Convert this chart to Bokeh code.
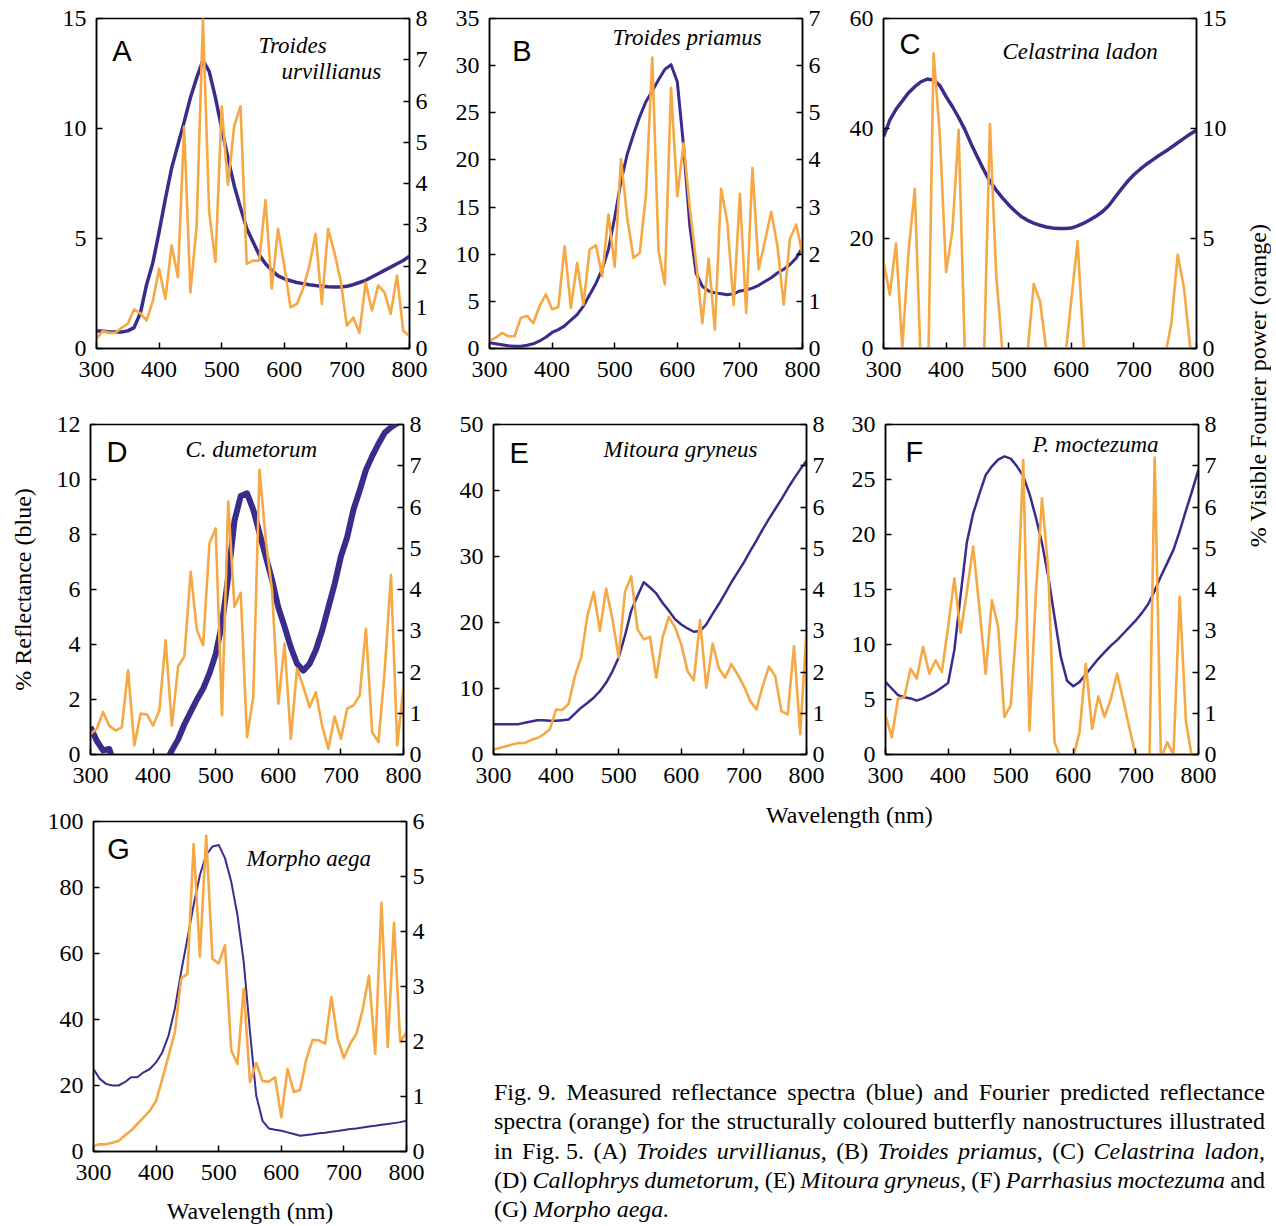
from bokeh.plotting import figure
from bokeh.models import Range1d, LinearAxis, FixedTicker, Label, Div
from bokeh.layouts import row, column
from bokeh.embed import file_html
from bokeh.resources import INLINE

# ---------------- data ----------------
WL = list(range(300, 801, 10))
X_TICKS = [300, 400, 500, 600, 700, 800]

BLUE_A = [0.8, 0.8, 0.75, 0.75, 0.75, 0.8, 0.95, 1.6, 2.9, 3.9, 5.3, 6.8, 8.2, 9.25, 10.3, 11.4, 12.3, 13.1,
          12.6, 11.4, 10.0, 8.65, 7.4, 6.4, 5.45, 4.85, 4.25, 3.85, 3.55, 3.3, 3.17, 3.08, 3.0, 2.95, 2.9, 2.86,
          2.83, 2.81, 2.8, 2.8, 2.83, 2.9, 3.0, 3.1, 3.25, 3.4, 3.55, 3.7, 3.85, 4.0, 4.2]
ORANGE_A = [0.23, 0.43, 0.38, 0.38, 0.5, 0.6, 0.95, 0.85, 0.68, 1.15, 1.93, 1.2, 2.5, 1.73, 5.38, 1.36, 2.98, 8.0,
            3.3, 2.1, 5.87, 3.96, 5.4, 5.87, 2.05, 2.13, 2.13, 3.6, 1.45, 2.9, 2.0, 1.0, 1.08, 1.45, 2.0, 2.78,
            1.08, 2.9, 2.33, 1.65, 0.55, 0.75, 0.38, 1.6, 0.92, 1.53, 1.36, 0.84, 1.77, 0.43, 0.3]

BLUE_B = [0.6, 0.5, 0.4, 0.3, 0.25, 0.25, 0.35, 0.5, 0.8, 1.2, 1.7, 2.0, 2.4, 3.0, 3.6, 4.5, 5.7, 6.9, 8.4, 10.5,
          13.9, 17.7, 20.6, 22.7, 24.6, 26.2, 27.3, 28.5, 29.6, 30.1, 28.3, 21.5, 13.0, 8.0, 6.6, 6.1, 5.9, 5.8,
          5.7, 5.8, 6.1, 6.2, 6.4, 6.7, 7.1, 7.5, 8.0, 8.4, 8.9, 9.6, 10.7]
ORANGE_B = [0.16, 0.23, 0.33, 0.26, 0.26, 0.65, 0.69, 0.54, 0.9, 1.15, 0.83, 0.88, 2.17, 0.86, 1.82, 0.93, 2.1,
            2.19, 1.53, 2.84, 1.73, 4.02, 2.77, 1.92, 2.03, 3.27, 6.17, 2.07, 1.36, 5.53, 3.23, 4.36, 2.98, 1.85,
            0.54, 1.91, 0.4, 3.39, 2.67, 0.92, 3.28, 0.76, 3.83, 1.68, 2.28, 2.9, 2.17, 0.93, 2.33, 2.63, 1.99]

BLUE_C = [38.5, 41.5, 43.5, 45.0, 46.5, 47.6, 48.5, 49.0, 48.8, 47.8, 45.8, 44.0, 42.0, 39.8, 37.2, 34.8, 32.5,
          30.4, 28.8, 27.4, 26.1, 25.0, 24.0, 23.3, 22.8, 22.4, 22.1, 21.9, 21.8, 21.8, 21.9, 22.3, 22.8, 23.4,
          24.1, 24.9, 26.0, 27.5, 29.0, 30.4, 31.6, 32.6, 33.5, 34.3, 35.1, 35.8, 36.6, 37.4, 38.2, 39.0, 39.7]
ORANGE_C = [3.96, 2.45, 4.77, 0.03, 4.4, 7.26, -1.2, -3.35, 13.42, 9.7, 3.48, 5.33, 9.94, -0.3, -3.0, -4.0, -1.1,
            10.2, 3.36, -0.15, -2.0, -3.0, -2.0, -0.2, 2.93, 2.15, -0.05, -2.0, -2.0, -0.5, 2.2, 4.87, 0.0, -2.0,
            -3.0, -3.0, -3.0, -3.0, -3.0, -3.0, -3.0, -3.0, -3.0, -2.0, -1.5, -0.3, 1.16, 4.27, 2.75, 0.03, -2.0]

BLUE_D = [1.0, 0.5, 0.15, 0.2, -0.5, -1.0, -1.5, -1.8, -1.8, -1.6, -1.2, -0.8, -0.3, 0.15, 0.55, 1.1, 1.55, 2.0,
          2.4, 2.95, 3.65, 4.75, 6.45, 8.5, 9.4, 9.5, 8.9, 8.05, 7.2, 6.35, 5.35, 4.65, 3.9, 3.3, 3.05, 3.3, 3.8,
          4.5, 5.35, 6.2, 7.2, 7.9, 8.9, 9.6, 10.35, 10.85, 11.3, 11.7, 11.9, 12.05, 12.2]
ORANGE_D = [0.5, 0.62, 1.03, 0.7, 0.58, 0.66, 2.04, 0.22, 0.99, 0.97, 0.7, 1.07, 2.77, 0.7, 2.14, 2.38, 4.43,
            3.01, 2.65, 5.12, 5.48, 0.95, 6.13, 3.58, 3.92, 0.42, 1.39, 6.9, 5.2, 3.98, 1.23, 2.69, 0.38, 2.08,
            1.64, 1.15, 1.51, 0.7, 0.14, 0.92, 0.38, 1.11, 1.19, 1.43, 3.05, 0.54, 0.3, 2.04, 4.35, 0.22, 1.64]

BLUE_E = [4.6, 4.6, 4.6, 4.6, 4.6, 4.8, 5.0, 5.2, 5.2, 5.1, 5.1, 5.2, 5.3, 6.2, 7.1, 7.8, 8.6, 9.6, 10.9, 12.6,
          14.7, 18.0, 21.8, 24.0, 26.1, 25.3, 24.4, 23.0, 21.8, 20.5, 19.7, 19.1, 18.6, 18.7, 19.7, 21.3, 22.8,
          24.4, 26.1, 27.6, 29.1, 30.8, 32.4, 34.1, 35.7, 37.2, 38.7, 40.3, 41.8, 43.2, 44.5]
ORANGE_E = [0.12, 0.16, 0.2, 0.24, 0.28, 0.28, 0.35, 0.4, 0.49, 0.61, 1.09, 1.08, 1.23, 1.9, 2.35, 3.36, 3.94,
            3.0, 4.02, 3.28, 2.35, 3.94, 4.32, 3.04, 2.79, 2.85, 1.86, 2.83, 3.34, 3.08, 2.67, 2.02, 1.8, 3.26,
            1.62, 2.69, 2.09, 1.86, 2.19, 1.94, 1.66, 1.3, 1.09, 1.66, 2.13, 1.9, 1.05, 0.97, 2.63, 0.49, 3.04]

BLUE_F = [6.6, 6.0, 5.4, 5.2, 5.1, 4.9, 5.1, 5.4, 5.7, 6.1, 6.5, 9.5, 14.5, 19.3, 21.9, 23.7, 25.4, 26.2, 26.8,
          27.1, 26.9, 26.2, 25.3, 23.7, 21.6, 19.2, 16.2, 12.5, 8.9, 6.7, 6.2, 6.6, 7.3, 8.0, 8.7, 9.3, 9.9, 10.4,
          11.0, 11.6, 12.2, 12.9, 13.7, 14.9, 16.2, 17.4, 18.6, 20.3, 22.2, 24.0, 25.9]
ORANGE_F = [0.95, 0.42, 1.35, 1.39, 2.08, 1.84, 2.61, 1.96, 2.28, 2.0, 3.09, 4.27, 2.95, 3.94, 5.04, 3.54, 1.96,
            3.74, 3.09, 0.91, 1.19, 3.3, 7.14, 0.58, 3.86, 6.21, 4.47, 0.3, -0.1, -0.6, -0.05, 0.54, 2.2, 0.62,
            1.41, 0.91, 1.35, 1.96, 1.31, 0.62, -0.05, -1.0, -1.6, 7.2, -0.1, 0.3, 0.0, 3.82, 0.79, -0.1, -0.5]

BLUE_G = [25.0, 22.0, 20.5, 20.0, 20.0, 21.0, 22.5, 22.5, 24.0, 25.0, 27.0, 30.1, 35.2, 43.3, 54.4, 64.5, 74.7,
          83.8, 89.9, 92.4, 92.9, 88.9, 81.8, 71.6, 57.4, 36.2, 16.9, 9.3, 7.0, 6.6, 6.3, 5.8, 5.3, 4.8, 5.0, 5.2,
          5.5, 5.7, 6.0, 6.2, 6.5, 6.8, 7.0, 7.3, 7.6, 7.8, 8.1, 8.3, 8.6, 8.9, 9.3]
ORANGE_G = [0.1, 0.13, 0.13, 0.16, 0.19, 0.29, 0.38, 0.5, 0.62, 0.74, 0.92, 1.32, 1.74, 2.17, 3.14, 3.23, 5.59,
            3.54, 5.74, 3.5, 3.42, 3.75, 1.84, 1.59, 2.96, 1.26, 1.61, 1.28, 1.27, 1.35, 0.62, 1.5, 1.08, 1.12,
            1.68, 2.03, 2.02, 1.96, 2.81, 2.05, 1.7, 1.96, 2.14, 2.58, 3.2, 1.78, 4.52, 1.9, 4.16, 1.99, 2.17]

LEFT_TICKS_A = [0, 5, 10, 15]
RIGHT_TICKS_A = [0, 1, 2, 3, 4, 5, 6, 7, 8]
LEFT_TICKS_B = [0, 5, 10, 15, 20, 25, 30, 35]
RIGHT_TICKS_B = [0, 1, 2, 3, 4, 5, 6, 7]
LEFT_TICKS_C = [0, 20, 40, 60]
RIGHT_TICKS_C = [0, 5, 10, 15]
LEFT_TICKS_D = [0, 2, 4, 6, 8, 10, 12]
RIGHT_TICKS_D = [0, 1, 2, 3, 4, 5, 6, 7, 8]
LEFT_TICKS_E = [0, 10, 20, 30, 40, 50]
RIGHT_TICKS_E = [0, 1, 2, 3, 4, 5, 6, 7, 8]
LEFT_TICKS_F = [0, 5, 10, 15, 20, 25, 30]
RIGHT_TICKS_F = [0, 1, 2, 3, 4, 5, 6, 7, 8]
LEFT_TICKS_G = [0, 20, 40, 60, 80, 100]
RIGHT_TICKS_G = [0, 1, 2, 3, 4, 5, 6]

# ---------------- style ----------------
BLUE = "#3b2c8c"
ORANGE = "#f5a843"
SERIF = "Liberation Serif"
SANS = "Liberation Sans"
FW, FH = 313, 330


def style_axis(ax, standoff):
    ax.axis_line_color = "black"
    ax.axis_line_width = 1.5
    ax.major_tick_in = 6
    ax.major_tick_out = 0
    ax.major_tick_line_width = 1.5
    ax.major_tick_line_color = "black"
    ax.minor_tick_line_color = None
    ax.major_label_text_font = SERIF
    ax.major_label_text_font_size = "24px"
    ax.major_label_text_color = "black"
    ax.major_label_standoff = standoff


def make_panel(letter, species, blue, orange, lticks, rticks, borders, letter_pos, blue_w,
               xlabel=None, ylabel=None):
    L, R, T, B = borders
    lmax = lticks[-1]
    rmax = rticks[-1]
    p = figure(frame_width=FW, frame_height=FH, x_range=Range1d(300, 800), y_range=Range1d(0, lmax),
               output_backend="svg", toolbar_location=None,
               min_border_left=L, min_border_right=R, min_border_top=T, min_border_bottom=B)
    p.extra_y_ranges = {"r": Range1d(0, rmax)}
    p.xgrid.visible = False
    p.ygrid.visible = False
    p.outline_line_color = "black"
    p.outline_line_width = 1.5
    p.outline_line_alpha = 1.0
    p.background_fill_color = "white"
    p.border_fill_color = "white"

    p.line(WL, blue, color=BLUE, line_width=blue_w, line_join="round")
    p.line(WL, orange, color=ORANGE, line_width=2.6, line_join="round", y_range_name="r")

    xax = p.xaxis[0]
    yax = p.yaxis[0]
    xax.ticker = FixedTicker(ticks=X_TICKS)
    yax.ticker = FixedTicker(ticks=lticks)
    style_axis(xax, 13)
    style_axis(yax, 10)
    rax = LinearAxis(y_range_name="r", ticker=FixedTicker(ticks=rticks))
    style_axis(rax, 6)
    p.add_layout(rax, "right")

    if xlabel:
        xax.axis_label = xlabel
        xax.axis_label_text_font = SERIF
        xax.axis_label_text_font_size = "24px"
        xax.axis_label_text_font_style = "normal"
        xax.axis_label_text_color = "black"
        xax.axis_label_standoff = 15
    if ylabel:
        yax.axis_label = ylabel
        yax.axis_label_text_font = SERIF
        yax.axis_label_text_font_size = "24px"
        yax.axis_label_text_font_style = "normal"
        yax.axis_label_text_color = "black"
        yax.axis_label_standoff = 18

    def pos(dx, dy):
        return 300 + dx * 500.0 / FW, lmax - dy * lmax / FH

    lx, ly = pos(letter_pos[0], letter_pos[1] - 11)
    p.add_layout(Label(x=lx, y=ly, text=letter, text_font=SANS, text_font_size="29px",
                       text_baseline="alphabetic", text_align="left", text_color="black"))
    for txt, dx, dy in species:
        sx, sy = pos(dx, dy - 8)
        p.add_layout(Label(x=sx, y=sy, text=txt, text_font=SERIF, text_font_size="23px",
                           text_font_style="italic", text_baseline="alphabetic", text_align="left",
                           text_color="black"))
    return p


pA = make_panel("A", [("Troides", 162, 35), ("urvillianus", 185, 61)], BLUE_A, ORANGE_A,
                LEFT_TICKS_A, RIGHT_TICKS_A, (96, 40, 18, 48), (15.7, 43), 3.5)
pB = make_panel("B", [("Troides priamus", 123, 27)], BLUE_B, ORANGE_B,
                LEFT_TICKS_B, RIGHT_TICKS_B, (40, 40, 18, 48), (22.7, 43), 3.0)
pC = make_panel("C", [("Celastrina ladon", 119, 41)], BLUE_C, ORANGE_C,
                LEFT_TICKS_C, RIGHT_TICKS_C, (41, 44, 18, 48), (16, 36), 3.5)
pD = make_panel("D", [("C.  dumetorum", 95, 33)], BLUE_D, ORANGE_D,
                LEFT_TICKS_D, RIGHT_TICKS_D, (90, 45, 28, 48), (16, 38), 6.0,
                ylabel="% Reflectance (blue)")
pE = make_panel("E", [("Mitoura gryneus", 110, 33)], BLUE_E, ORANGE_E,
                LEFT_TICKS_E, RIGHT_TICKS_E, (45, 40, 28, 48), (16, 39), 2.5)
pF = make_panel("F", [("P. moctezuma", 147, 28)], BLUE_F, ORANGE_F,
                LEFT_TICKS_F, RIGHT_TICKS_F, (39, 42, 28, 48), (20, 38), 2.5)
pG = make_panel("G", [("Morpho aega", 153, 45)], BLUE_G, ORANGE_G,
                LEFT_TICKS_G, RIGHT_TICKS_G, (93, 40, 17, 77), (13.7, 38), 2.0,
                xlabel="Wavelength (nm)")

right_label = Div(
    text=('<div style="writing-mode: vertical-rl; transform: rotate(180deg); '
          'font-family: \'Liberation Serif\'; font-size: 24px; line-height: 24px; '
          'white-space: nowrap; margin-top: 224px; margin-left: 6px; color: black;">'
          '% Visible Fourier power (orange)</div>'),
    width=36, height=804, margin=0)

wl_div = Div(
    text=('<div style="font-family: \'Liberation Serif\'; font-size: 24px; line-height: 30px; '
          'position: relative; top: -4px; margin-left: 320px; white-space: nowrap; color: black;">'
          'Wavelength (nm)</div>'),
    width=830, height=44, margin=0)

CAPTION_LINES = [
    ["Fig.&nbsp;9.", "Measured", "reflectance", "spectra", "(blue)", "and", "Fourier", "predicted",
     "reflectance"],
    ["spectra", "(orange)", "for", "the", "structurally", "coloured", "butterfly", "nanostructures",
     "illustrated"],
    ["in", "Fig.&nbsp;5.", "(A)", "<i>Troides</i>", "<i>urvillianus</i>,", "(B)", "<i>Troides</i>",
     "<i>priamus</i>,", "(C)", "<i>Celastrina</i>", "<i>ladon</i>,"],
    ["(D)", "<i>Callophrys</i>", "<i>dumetorum</i>,", "(E)", "<i>Mitoura</i>", "<i>gryneus</i>,", "(F)",
     "<i>Parrhasius</i>", "<i>moctezuma</i>", "and"],
]
CAPTION_LAST = "(G) <i>Morpho aega.</i>"

line_html = ""
for toks in CAPTION_LINES:
    spans = "".join('<span style="white-space:nowrap">%s</span>' % t for t in toks)
    line_html += ('<div style="display:flex; justify-content:space-between; column-gap:3px; height:29.3px; '
                  'line-height:29.3px; white-space:nowrap;">%s</div>' % spans)
line_html += '<div style="height:29.3px; line-height:29.3px; white-space:nowrap;">%s</div>' % CAPTION_LAST

caption = Div(
    text=('<div style="font-family: \'Liberation Serif\'; font-size: 24px; color: black; '
          'margin-top: 230px; margin-left: 48px; width: 771px;">%s</div>' % line_html),
    width=830, height=380, margin=0)

layout = column(
    row(column(row(pA, pB, pC), row(pD, pE, pF)), right_label),
    row(pG, column(wl_div, caption)),
)

open("out.html", "w").write(file_html(layout, INLINE))
